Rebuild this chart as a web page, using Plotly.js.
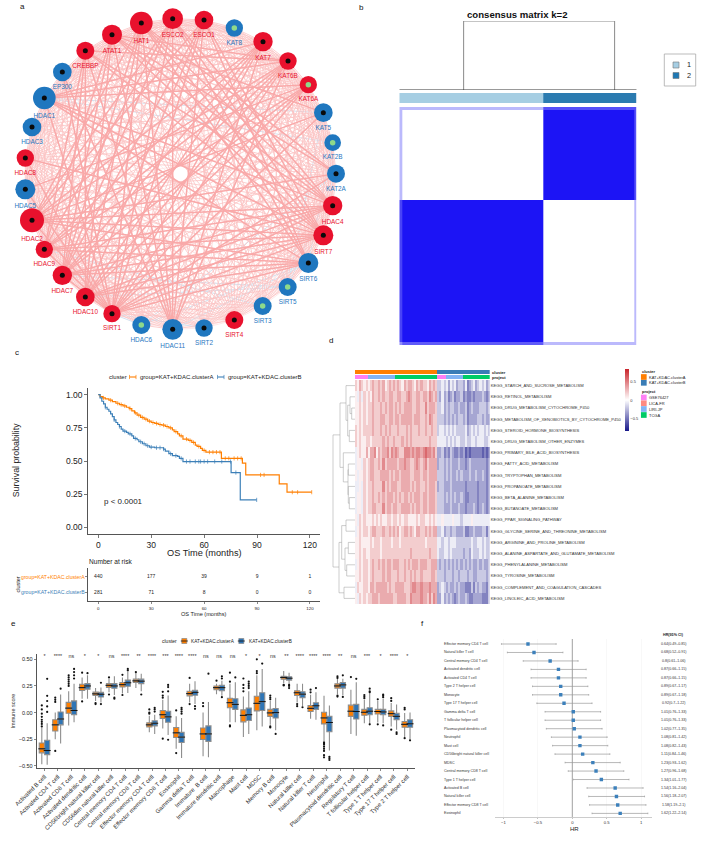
<!DOCTYPE html>
<html><head><meta charset="utf-8">
<script src="https://cdn.plot.ly/plotly-3.0.1.min.js"></script>
<style>html,body{margin:0;padding:0;background:#fff}</style></head>
<body><div id="chart" style="width:709px;height:841px"></div>
<script>
const W=709,H=841;
/* ---------- panel a : network ---------- */
const nodeNames=['HAT1','ESCO2','ESCO1','KAT8','KAT7','KAT6B','KAT6A','KAT5','KAT2B','KAT2A','HDAC4','SIRT7','SIRT6','SIRT5','SIRT3','SIRT4','SIRT2','HDAC11','HDAC6','SIRT1','HDAC10','HDAC7','HDAC9','HDAC2','HDAC5','HDAC8','HDAC3','HDAC1','EP300','CREBBP','ATAT1'];
const nodeX=[424,518,612,703,789,864,925,970,998,1008,998,970,925,863,788,703,612,518,424,336,256,187,133,96,76,76,96,133,187,256,336];
const nodeY=[69,56,60,84,125,183,254,338,428,521,617,706,789,861,918,960,984,988,975,941,891,826,748,661,568,474,381,294,216,152,104];
const nodeSize=[68,62,56,52,58,52,52,56,50,54,58,60,60,54,54,54,52,62,54,52,56,58,52,72,60,52,56,68,56,54,60];
const nodeGroup=[1,1,1,2,1,1,1,2,2,2,1,1,2,2,2,1,2,2,2,1,1,1,1,1,2,1,2,2,2,1,1];
const nodeCore=[0,0,0,1,0,0,1,0,1,0,0,0,0,1,1,0,0,0,1,0,0,0,0,0,0,0,0,0,0,0,0];
const strongEdges=[[19,27],[19,28],[19,0],[19,1],[19,2],[19,4],[19,5],[19,6],[19,7],[19,9],[19,10],[19,11],[19,12],[19,23],[19,22],[19,21],[19,24],[19,25],[23,12],[23,11],[23,10],[23,9],[23,7],[23,5],[23,4],[23,2],[23,1],[23,0],[27,10],[27,11],[27,5],[27,4],[27,6],[27,12],[0,10],[0,11],[0,12],[0,9],[0,17],[0,20],[0,21],[1,17],[1,12],[1,11],[1,10],[1,21],[1,22],[2,12],[2,11],[2,17],[2,21],[2,20],[4,17],[4,20],[4,21],[4,22],[5,20],[5,21],[5,22],[5,17],[6,20],[6,21],[6,22],[6,24],[11,20],[11,21],[11,22],[11,25],[11,29],[11,30],[10,29],[10,30],[10,20],[10,21],[10,22],[12,20],[12,21],[12,22],[17,29],[17,30],[17,28],[20,29],[20,30],[21,29],[21,30],[22,29],[22,30],[29,5],[30,5],[30,7],[30,9]];
const paleEdges=[[13,14],[14,15],[15,16],[16,17],[13,16],[14,16],[14,17],[13,17],[13,18],[14,18],[15,18],[16,18],[3,13],[3,14],[3,16],[3,18],[8,13],[8,14],[8,16],[8,18],[24,13],[24,14],[24,16],[26,13],[26,14],[26,16],[26,18],[27,13],[27,14],[27,16],[28,13],[28,14],[28,16],[3,26],[3,24],[8,24],[8,26]];
const blueEdges=[[27,8],[20,12],[20,13],[19,18],[19,16],[21,13],[22,14],[17,12],[18,12],[8,12],[7,13],[9,13],[9,18],[27,7]];
/* ---------- panel b : consensus ---------- */
const consensusXEdges=[0,.012,.608,.988,1];
const consensusYEdges=[0,.012,.392,.988,1];
const consensusZ=[[.3,.3,.75,.75],[.3,0,1,.75],[.8,1,0,.3],[.5,.7,.3,.3]];
const memberEdges=[0,.608,1];
const memberZ=[[1,2]];
const treeBX=[.271,.271,.907,.907];
const treeBY=[0,1,1,0];
/* ---------- panel c : survival ---------- */
const timeA=[0,1,2.5,4,6,8,10,12,14,16,17.5,19,20.5,22,24,26,28,30,32,34,36,38,40,42,43,45,46,48,51,53,55,56,58,59,61,69.8,81.7,83.6,102.6,107,121];
const survA=[1,.985,.975,.968,.958,.948,.935,.925,.915,.905,.895,.878,.863,.845,.828,.815,.80,.79,.783,.775,.77,.76,.75,.735,.722,.705,.69,.665,.655,.64,.62,.61,.595,.58,.567,.52,.484,.395,.327,.265,.265];
const timeB=[0,1,2,3,4,5,6,7,8,9,10,11,12,13,14,16,17,19,20,22,23,25,27,29,32,37,38,40,42,45,46,48,75.3,80.5,89.8];
const survB=[1,.975,.95,.93,.905,.89,.875,.855,.835,.81,.79,.775,.76,.74,.725,.715,.705,.69,.67,.66,.645,.63,.615,.605,.6,.59,.575,.555,.54,.535,.52,.496,.413,.207,.207];
const censorA=[3,7,11,13,15,18,21,23,25,27,29,31,33,35,37,39,41,44,47,50,52,54,57,60,63,65,67,69,72,74,77,79,81,92,94,110,113,121];
const censorB=[4,9,12,15,18,21,24,26,28,30,33,35,37,41,44,47,50,52,55,57,58,60,62,66,70,75,78,89.8];
const riskTimes=[0,30,60,90,120];
const riskA=[440,177,39,9,1];
const riskB=[281,71,8,0,0];
/* ---------- panel d : KEGG heatmap ---------- */
const keggRows=['KEGG_STARCH_AND_SUCROSE_METABOLISM','KEGG_RETINOL_METABOLISM','KEGG_DRUG_METABOLISM_CYTOCHROME_P450','KEGG_METABOLISM_OF_XENOBIOTICS_BY_CYTOCHROME_P450','KEGG_STEROID_HORMONE_BIOSYNTHESIS','KEGG_DRUG_METABOLISM_OTHER_ENZYMES','KEGG_PRIMARY_BILE_ACID_BIOSYNTHESIS','KEGG_FATTY_ACID_METABOLISM','KEGG_TRYPTOPHAN_METABOLISM','KEGG_PROPANOATE_METABOLISM','KEGG_BETA_ALANINE_METABOLISM','KEGG_BUTANOATE_METABOLISM','KEGG_PPAR_SIGNALING_PATHWAY','KEGG_GLYCINE_SERINE_AND_THREONINE_METABOLISM','KEGG_ARGININE_AND_PROLINE_METABOLISM','KEGG_ALANINE_ASPARTATE_AND_GLUTAMATE_METABOLISM','KEGG_PHENYLALANINE_METABOLISM','KEGG_TYROSINE_METABOLISM','KEGG_COMPLEMENT_AND_COAGULATION_CASCADES','KEGG_LINOLEIC_ACID_METABOLISM'];
const keggLevels=[
"6576565676 6767567676 7657677657 6766576763 3434243423 3241234234 3423",
"5464656576 6767667766 7766787667 7677687673 2423123122 3121121222 3212",
"5565656676 6676767767 6767777667 7668677763 3423233223 2231232223 3323",
"5565656676 6677667767 7677777677 7667687663 3323232323 3231222233 2322",
"6565666676 6676767666 7666767666 7667667663 4434343433 3342343434 4343",
"6565566566 6667676676 6676767666 6666676664 4443434344 3343344344 4334",
"4565575778 5767786878 7668887878 8789887862 2312132112 1201011111 0101",
"4554656776 6768677777 6778776678 7678677772 3323232223 2212322222 2212",
"5455656776 6677776767 7677776677 7677677773 3323232232 3222322322 3212",
"4454656676 6668676777 6677776767 7667677762 3322232222 2212222212 2212",
"4554656676 6767677767 6767767677 7677677763 3323232322 3211222212 2212",
"4554656677 6668677677 6677776767 7677677763 3322232223 2212223212 3212",
"5465655565 6565566566 5656655556 5665565654 4544445444 3444454444 4444",
"4565665677 6667667676 7567767657 7667676773 3423323322 2311223222 3313",
"5565555656 6656666566 6566666666 6665666664 4344344433 3333343344 3433",
"5565655666 6656666666 6666667666 6666676664 3344343333 3233243334 3433",
"4565665676 6767677677 7667676777 6777667773 2323232323 2323232232 3223",
"5565665676 6667677666 7667667676 6766667763 3323332332 3332332233 3323",
"4655665776 7777767667 7776667887 7877787772 3432322323 2211131323 2213",
"5465656677 7677777766 7777668777 7877686872 2423232123 2232112222 1113"];
const clusterRuns=[39,25];
const projectRuns=[[1,6],[3,13],[4,20],[1,4],[3,8],[4,13]];
const treeLow=[2,1,4,1.75,0,10,9,7,7.5,6,1.55,12,14,16,14.5,12.5,18,14,4.4];
const treeHigh=[3,2.5,5,4.5,3.1,11,10.5,8,9.75,8.6,7.3,13,15,17,16.5,15.5,19,18.5,16.2];
const treeDepth=[3.3,5,5.7,7.3,9,5.7,6.7,6.7,7,11.7,15,9,6.7,8.3,10,13.3,11,16,22];
const treeLowChild=[0,0,0,5,0,0,0,0,6.7,0,9,0,0,0,6.7,9,0,13.3,15];
const treeHighChild=[0,3.3,0,5.7,7.3,0,5.7,0,6.7,7,11.7,0,0,0,8.3,10,0,11,16];
/* ---------- panel e : immune boxes ---------- */
const immuneCells=['Activated B cell','Activated CD4 T cell','Activated CD8 T cell','Activated dendritic cell','CD56bright natural killer cell','CD56dim natural killer cell','Central memory CD4 T cell','Central memory CD8 T cell','Effector memory CD4 T cell','Effector memory CD8 T cell','Eosinophil','Gamma delta T cell','Immature  B cell','Immature dendritic cell','Macrophage','Mast cell','MDSC','Memory B cell','Monocyte','Natural killer cell','Natural killer T cell','Neutrophil','Plasmacytoid dendritic cell','Regulatory T cell','T follicular helper cell','Type 1 T helper cell','Type 17 T helper cell','Type 2 T helper cell'];
const signif=['*','****','ns','*','*','ns','****','**','****','***','****','****','ns','ns','ns','*','*','ns','**','****','****','****','**','ns','***','*','****','*'];
const lowA=[-.484,-.25,-.12,.13,.11,.19,.18,.23,-.185,-.15,-.34,.095,-.41,.173,-.09,-.23,-.165,-.115,.275,.095,-.058,-.266,.173,-.2,-.1,-.093,-.13,-.23];
const q1A=[-.378,-.173,-.006,.208,.16,.237,.24,.282,-.135,-.055,-.234,.157,-.253,.215,.045,-.087,.016,-.035,.314,.16,.01,-.106,.23,-.035,-.025,-.013,-.035,-.138];
const medA=[-.34,-.115,.042,.234,.176,.256,.262,.298,-.115,-.02,-.19,.178,-.2,.234,.093,-.026,.087,-.003,.33,.186,.04,-.05,.25,.013,.003,.01,-.01,-.11];
const q3A=[-.285,-.067,.096,.266,.192,.272,.282,.314,-.096,.02,-.14,.2,-.144,.25,.135,.026,.154,.03,.34,.205,.067,.003,.27,.07,.03,.03,.016,-.083];
const highA=[-.14,0,.2,.33,.23,.315,.33,.38,-.03,.12,-.035,.27,0,.27,.27,.15,.35,.11,.39,.27,.167,.157,.317,.215,.12,.11,.09,-.003];
const lowB=[-.49,-.29,-.09,.13,.095,.165,.185,.2,-.2,-.21,-.425,.08,-.42,.157,-.09,-.2,-.13,-.165,.265,.06,-.067,-.355,.163,-.218,-.11,-.1,-.16,-.25];
const q1B=[-.394,-.115,-.02,.22,.147,.228,.247,.272,-.125,-.09,-.28,.163,-.27,.205,.03,-.074,.02,-.05,.305,.14,.03,-.18,.23,-.06,-.02,-.02,-.067,-.138];
const medB=[-.356,-.06,.02,.25,.172,.25,.28,.295,-.1,-.04,-.23,.19,-.2,.234,.077,-.02,.103,0,.323,.173,.064,-.093,.26,.01,.013,.006,-.035,-.105];
const q3B=[-.26,.006,.11,.272,.19,.272,.305,.314,-.077,.013,-.186,.21,-.125,.256,.13,.042,.186,.038,.337,.196,.093,-.035,.282,.077,.045,.03,-.006,-.067];
const highB=[-.1,.17,.27,.35,.235,.34,.38,.365,-.02,.16,-.05,.295,.1,.3,.285,.2,.41,.14,.375,.27,.19,.067,.317,.285,.18,.13,.077,0];
const outA=[[.067,.03,-.01,-.04,-.067,-.087,-.106,-.13],[.14,.12,.1,-.36],[.35,.33,.31,.29,.27,.25],[.375,.105],[.09,.08],[.33,.17],[.355,.165],[.38],[.03,0,-.01],[.195,.16,.14,-.245],[.02,-.38],[.325,.08],[.09,.06],[.3],[.375,.29,-.12,-.13],[.32,.26,.23,.2],[.5,.39,.37],[.16,.14,.125,-.13,-.14],[.26,.255],[.08,.06],[.215,.19],[-.28,-.29,-.3,-.32,-.34,-.36,-.4,-.42],[.34,.325,.16,.15],[.333],[.165,.15,.135],[.125,-.11],[.135,.11,-.16],[.045,.03,-.24]];
const outB=[[.317,.157,.109,.058,.006],[.225],[.41,.38,.35,.32],[.37],[.28,.08],[.14,.13],[.41,.395],[.17],[.045,.03,.01],[.26,.24,.2,-.255],[.045,.03,.01,-.01],[.06,.035],[.365],[.34,.32,.145],[.33],[.29,.27,.25,.23],[.46],[-.2],[.26,.25,.23],[.05],[.23],[-.415,-.43,-.445],[.35,.147],[.317],[.225,.2,.19,-.11],[.17,.16,.145,-.12],[-.185,-.2],[-.26]];
/* ---------- panel f : forest ---------- */
const forestCells=['Effector memory CD4 T cell','Natural killer T cell','Central memory CD4 T cell','Activated dendritic cell','Activated CD4 T cell','Type 2 T helper cell','Monocyte','Type 17 T helper cell','Gamma delta T cell','T follicular helper cell','Plasmacytoid dendritic cell','Neutrophil','Mast cell','CD56bright natural killer cell','MDSC','Central memory CD8 T cell','Type 1 T helper cell','Activated B cell','Natural killer cell','Effector memory CD8 T cell','Eosinophil'];
const forestHR=[.64,.68,.8,.87,.87,.89,.89,.92,1.01,1.01,1.02,1.08,1.08,1.11,1.23,1.27,1.34,1.54,1.56,1.58,1.62];
const forestLow=[.49,.52,.61,.66,.66,.67,.67,.7,.76,.76,.77,.81,.82,.84,.93,.96,1.01,1.16,1.18,1.19,1.22];
const forestHigh=[.85,.91,1.06,1.15,1.15,1.17,1.18,1.22,1.33,1.33,1.35,1.42,1.43,1.46,1.62,1.68,1.77,2.04,2.07,2.1,2.14];

const FONT='"Liberation Sans", Arial, sans-serif';
const RED='#e8112d',BLUE='#1f77bf',ORANGE='#ff7f00',KMBLUE='#3d80b8',BOXBLUE='#2e75b6';
const traces=[],annotations=[];
const layout={width:W,height:H,margin:{l:0,r:0,t:0,b:0,pad:0},paper_bgcolor:'#fff',plot_bgcolor:'rgba(0,0,0,0)',showlegend:false,font:{family:FONT,color:'#222',size:6},boxmode:'overlay',hovermode:false,annotations};
function axes(n,x0,x1,y0,y1,xo,yo){
  layout['xaxis'+n]=Object.assign({domain:[x0/W,x1/W],anchor:'y'+n,showgrid:false,zeroline:false,showline:false,showticklabels:false,ticks:'',automargin:false},xo);
  layout['yaxis'+n]=Object.assign({domain:[1-y1/H,1-y0/H],anchor:'x'+n,showgrid:false,zeroline:false,showline:false,showticklabels:false,ticks:'',automargin:false},yo);
}
function extraY(n,y0,y1,anchor,range){
  layout['yaxis'+n]={domain:[1-y1/H,1-y0/H],anchor,range:range||[0,1],showgrid:false,zeroline:false,showticklabels:false,showline:false,ticks:''};
}
function note(x,y,text,size,o){
  annotations.push(Object.assign({xref:'paper',yref:'paper',x:x/W,y:1-y/H,text,showarrow:false,xanchor:'left',yanchor:'middle',font:{size,color:'#222'},borderpad:0},o||{}));
}
function strip(z,colors,xa,ya,x,y){
  const n=colors.length;const cs=[];colors.forEach((c,i)=>{cs.push([i/n,c],[(i+1)/n,c]);});
  traces.push({type:'heatmap',z,x,y,xaxis:xa,yaxis:ya,colorscale:cs,zmin:.5,zmax:n+.5,showscale:false,hoverinfo:'skip',xgap:0,ygap:0});
}
/* letters */
[['a',22,7],['b',361,8],['c',17,353],['d',331,340],['e',13,623],['f',422,623]].forEach(l=>note(l[1],l[2],l[0],8,{xanchor:'center',font:{size:8,color:'#111'}}));

/* panel a : uses the first axis pair */
layout.xaxis={domain:[0,350/W],anchor:'y',range:[0,1050],showgrid:false,zeroline:false,showticklabels:false,ticks:''};
layout.yaxis={domain:[1-350/H,1],anchor:'x',range:[1050,0],showgrid:false,zeroline:false,showticklabels:false,ticks:''};
function segs(pairs){const x=[],y=[];pairs.forEach(p=>{x.push(nodeX[p[0]],nodeX[p[1]],null);y.push(nodeY[p[0]],nodeY[p[1]],null);});return {x,y};}
const keyOf=(a,b)=>a<b?a+'-'+b:b+'-'+a;
const taken=new Set([...strongEdges,...paleEdges,...blueEdges].map(p=>keyOf(p[0],p[1])));
const baseEdges=[];
nodeNames.forEach((_,i)=>nodeNames.forEach((__,j)=>{if(i<j&&!taken.has(keyOf(i,j)))baseEdges.push([i,j]);}));
function edgeTrace(pairs,color,width){const s=segs(pairs);traces.push({type:'scatter',mode:'lines',x:s.x,y:s.y,xaxis:'x',yaxis:'y',line:{color,width},hoverinfo:'skip'});}
edgeTrace(paleEdges,'#fde0df',.7);
edgeTrace(blueEdges,'#d4e1ef',1);
edgeTrace(baseEdges,'#fbc3c3',.8);
edgeTrace(strongEdges,'#f9a9a9',1.5);
const nodeColor=nodeGroup.map(g=>g===1?RED:BLUE);
traces.push({type:'scatter',mode:'markers+text',x:nodeX,y:nodeY,text:nodeNames,textposition:'bottom center',textfont:{size:6.4,color:nodeColor},xaxis:'x',yaxis:'y',cliponaxis:false,marker:{size:nodeSize.map(s=>s/3),color:nodeColor,opacity:1,line:{width:0}},hoverinfo:'skip'});
traces.push({type:'scatter',mode:'markers',x:nodeX,y:nodeY,xaxis:'x',yaxis:'y',cliponaxis:false,marker:{size:nodeCore.map(c=>c?5.5:5),color:nodeCore.map(c=>c?'#8ed98a':'#0a0a0a'),opacity:1,line:{width:0}},hoverinfo:'skip'});

/* panel b */
axes(2,399.3,636.7,107,345,{range:[0,1]},{range:[1,0]});
traces.push({type:'heatmap',x:consensusXEdges,y:consensusYEdges,z:consensusZ,xaxis:'x2',yaxis:'y2',zmin:0,zmax:1,colorscale:[[0,'#ffffff'],[1,'#1c14f5']],showscale:false,hoverinfo:'skip'});
extraY(20,21,90,'x2');
extraY(21,93,103,'x2');
traces.push({type:'scatter',mode:'lines',x:treeBX,y:treeBY,xaxis:'x2',yaxis:'y20',line:{color:'#8a8a8a',width:1},cliponaxis:false,hoverinfo:'skip'});
traces.push({type:'scatter',mode:'lines',x:[0,1],y:[0,0],xaxis:'x2',yaxis:'y20',line:{color:'#333',width:1},cliponaxis:false,hoverinfo:'skip'});
strip(memberZ,['#a6cee3','#2b7bb0'],'x2','y21',memberEdges,[0,1]);
note(517.7,15,'<b>consensus matrix k=2</b>',9.6,{xanchor:'center',font:{size:9.6,color:'#111'}});
note(689,65,'1',7.3,{xanchor:'center'});note(689,75.5,'2',7.3,{xanchor:'center'});

/* panel c */
const kmFont={size:8.5,color:'#222'};
axes(3,87.7,320,388,534,{range:[-6,125.7],showline:true,linecolor:'#555',linewidth:1,ticks:'outside',ticklen:2.5,tickcolor:'#555',tickwidth:.8,showticklabels:true,tickvals:riskTimes,tickfont:kmFont},
 {range:[-.05,1.05],showline:true,linecolor:'#555',linewidth:1,ticks:'outside',ticklen:2.5,tickcolor:'#555',tickwidth:.8,showticklabels:true,tickvals:[0,.25,.5,.75,1],ticktext:['0.00','0.25','0.50','0.75','1.00'],tickfont:kmFont});
const stepAt=(ts,ss,t)=>{let v=ss[0];ts.forEach((u,i)=>{if(u<=t)v=ss[i];});return v;};
[[timeA,survA,censorA,ORANGE],[timeB,survB,censorB,KMBLUE]].forEach(r=>{
  traces.push({type:'scatter',mode:'lines',x:r[0],y:r[1],xaxis:'x3',yaxis:'y3',line:{color:r[3],width:1.2,shape:'hv'},hoverinfo:'skip'});
  traces.push({type:'scatter',mode:'markers',x:r[2],y:r[2].map(t=>stepAt(r[0],r[1],t)),xaxis:'x3',yaxis:'y3',marker:{symbol:'line-ns-open',size:3,color:r[3],line:{color:r[3],width:.7}},hoverinfo:'skip'});
});
note(204,553,'OS Time (months)',9.2,{xanchor:'center'});
note(15.7,460.6,'Survival probability',8.8,{xanchor:'center',textangle:-90});
note(102.5,501.3,'p < 0.0001',8,{});
/* KM legend */
note(107.7,377,'cluster',6,{});
note(139,377,'group=KAT+KDAC.clusterA',6,{});
note(226.7,377,'group=KAT+KDAC.clusterB',6,{});
/* risk table */
axes(4,87.7,320,567.7,601.3,{range:[-6,125.7],showline:true,linecolor:'#555',linewidth:1,ticks:'outside',ticklen:2,tickcolor:'#555',tickwidth:.7,showticklabels:true,tickvals:riskTimes,tickfont:{size:4.4,color:'#222'}},
 {range:[1.58,-.58],showline:true,linecolor:'#555',linewidth:1,ticks:'outside',ticklen:1.5,tickcolor:'#555',tickwidth:.7,tickvals:[0,1]});
[riskA,riskB].forEach((r,k)=>traces.push({type:'scatter',mode:'text',x:riskTimes,y:riskTimes.map(()=>k),text:r.map(String),textfont:{size:5,color:'#222'},xaxis:'x4',yaxis:'y4',hoverinfo:'skip'}));
note(87.7,561,'Number at risk',6.6,{});
note(86,576.7,'group=KAT+KDAC.clusterA',5.2,{xanchor:'right',font:{size:5.2,color:ORANGE}});
note(86,592.3,'group=KAT+KDAC.clusterB',5.2,{xanchor:'right',font:{size:5.2,color:KMBLUE}});
note(17,584.5,'cluster',5.5,{xanchor:'center',textangle:-90});
note(204,613.5,'OS Time (months)',5.6,{xanchor:'center'});

/* panel d */
const colIdx=Array.from(keggLevels[0].replace(/ /g,''),(_,i)=>i);
const keggZ=keggLevels.map(s=>Array.from(s.replace(/ /g,''),d=>(+d-4.5)*.13));
const tickRows=keggRows.map((_,i)=>i);
axes(5,355,489.7,380,604,{range:[-.5,colIdx.length-.5]},{range:[19.5,-.5],side:'right',showticklabels:true,tickvals:tickRows,ticktext:keggRows,tickfont:{size:4.1,color:'#333'},ticklen:0});
traces.push({type:'heatmap',z:keggZ,x:colIdx,y:tickRows,xaxis:'x5',yaxis:'y5',zmin:-.85,zmax:.85,hoverinfo:'skip',
 colorscale:[[0,'#17178a'],[.5,'#ffffff'],[1,'#c9242b']],
 colorbar:{x:625.3/W,xanchor:'left',y:1-369.3/H,yanchor:'top',lenmode:'pixels',len:62.4,thicknessmode:'pixels',thickness:4,xpad:0,ypad:0,outlinewidth:0,ticks:'',tickvals:[-.5,0,.5],ticktext:['\u22120.5','0','0.5'],tickfont:{size:4,color:'#333'}}});
extraY(6,370,374,'x5');
extraY(7,375,379,'x5');
const clusterCols=[];clusterRuns.forEach((n,i)=>{for(let k=0;k<n;k++)clusterCols.push(i+1);});
const projectCols=[];projectRuns.forEach(r=>{for(let k=0;k<r[1];k++)projectCols.push(r[0]);});
strip([clusterCols],[ORANGE,'#3a7db6'],'x5','y6',colIdx,[.5]);
strip([projectCols],['#ff80f4','#ff8a80','#82b4f4','#00cc66'],'x5','y7',colIdx,[.5]);
note(491,372,'<b>cluster</b>',4.1,{});note(491,377,'<b>project</b>',4.1,{});
/* left tree */
const tx=[],ty=[];
treeLow.forEach((l,i)=>{tx.push(treeLowChild[i],treeDepth[i],treeDepth[i],treeHighChild[i],null);ty.push(l,l,treeHigh[i],treeHigh[i],null);});
layout.xaxis8={domain:[332/W,355/W],anchor:'y5',range:[23,0],showgrid:false,zeroline:false,showticklabels:false,showline:false,ticks:''};
traces.push({type:'scatter',mode:'lines',x:tx,y:ty,xaxis:'x8',yaxis:'y5',line:{color:'#9a9a9a',width:.5},hoverinfo:'skip',cliponaxis:false});
/* d legends */
note(641,371,'<b>cluster</b>',4,{});
note(648,377,'KAT+KDAC.clusterA',4,{});note(648,382.7,'KAT+KDAC.clusterB',4,{});
note(641,392,'<b>project</b>',4,{});
['GSE76427','LICA-FR','LIRI-JP','TCGA'].forEach((t,i)=>note(648,[397.5,403.3,409,415][i],t,4,{}));

/* panel e */
axes(9,36.7,415,654,768,{range:[-.58,27.57],showline:true,linecolor:'#555',linewidth:1,ticks:'outside',ticklen:2,tickcolor:'#555',tickwidth:.7,showticklabels:true,tickvals:immuneCells.map((_,i)=>i),ticktext:immuneCells,tickangle:-45,tickfont:{size:6,color:'#333'}},
 {range:[-.52,.55],showline:true,linecolor:'#555',linewidth:1,ticks:'outside',ticklen:2,tickcolor:'#555',tickwidth:.7,showticklabels:true,tickvals:[-.5,-.25,0,.25,.5],ticktext:['\u22120.50','\u22120.25','0.00','0.25','0.50'],tickfont:{size:5.5,color:'#222'},title:{text:'Immune score',font:{size:5.5,color:'#333'},standoff:2}});
[[lowA,q1A,medA,q3A,highA,outA,ORANGE,-.2],[lowB,q1B,medB,q3B,highB,outB,BOXBLUE,.2]].forEach(r=>{
  const xs=immuneCells.map((_,i)=>i+r[7]);
  traces.push({type:'box',x:xs,lowerfence:r[0],q1:r[1],median:r[2],q3:r[3],upperfence:r[4],width:.38,whiskerwidth:0,boxpoints:false,fillcolor:r[6],line:{color:'#8e8e8e',width:1.1},xaxis:'x9',yaxis:'y9',hoverinfo:'skip'});
  traces.push({type:'scatter',mode:'markers',x:xs,y:r[2],xaxis:'x9',yaxis:'y9',marker:{symbol:'line-ew-open',size:5,color:'#111',line:{color:'#111',width:1}},hoverinfo:'skip'});
  const ox=[],oy=[];r[5].forEach((a,i)=>a.forEach(v=>{ox.push(i+r[7]);oy.push(v);}));
  traces.push({type:'scatter',mode:'markers',x:ox,y:oy,xaxis:'x9',yaxis:'y9',marker:{size:2.2,color:'#111'},hoverinfo:'skip',cliponaxis:false});
});
traces.push({type:'scatter',mode:'text',x:immuneCells.map((_,i)=>i),y:immuneCells.map(()=>.525),text:signif,textfont:{size:5.4,color:'#333'},xaxis:'x9',yaxis:'y9',cliponaxis:false,hoverinfo:'skip'});
note(161,641,'cluster',5,{});
note(190,641,'KAT+KDAC.clusterA',4.7,{});note(247.7,641,'KAT+KDAC.clusterB',4.7,{});

/* panel f */
const log2=v=>Math.log(v)/Math.LN2;
axes(10,495,652,639,817.3,{range:[-1.123,1.158],showline:true,linecolor:'#aaa',linewidth:.6,ticks:'outside',ticklen:1.5,tickcolor:'#888',tickwidth:.5,showticklabels:true,tickvals:[-1,-.5,0,.5,1],ticktext:['\u22121','\u22120.5','0','0.5','1'],tickfont:{size:4.2,color:'#333'},showgrid:true,gridcolor:'#f1f1f1',gridwidth:.5},
 {range:[20.46,-.59]});
const rows=forestCells.map((_,i)=>i);
traces.push({type:'scatter',mode:'lines',x:[0,0],y:[-.59,20.46],xaxis:'x10',yaxis:'y10',line:{color:'#8a8a8a',width:.8},hoverinfo:'skip'});
traces.push({type:'scatter',mode:'markers',x:forestHR.map(log2),y:rows,xaxis:'x10',yaxis:'y10',marker:{symbol:'square',size:3.4,color:'#3c80bb'},
 error_x:{type:'data',symmetric:false,array:forestHigh.map((v,i)=>log2(v)-log2(forestHR[i])),arrayminus:forestLow.map((v,i)=>log2(forestHR[i])-log2(v)),color:'#9a9a9a',thickness:.7,width:.8},hoverinfo:'skip'});
note(574,828.7,'HR',6,{xanchor:'center'});
note(673,635,'<b>HR(95% CI)</b>',3.7,{xanchor:'center'});
forestCells.forEach((c,i)=>{
  annotations.push({xref:'paper',yref:'y10',x:443/W,y:i,text:c,showarrow:false,xanchor:'left',yanchor:'middle',font:{size:3.6,color:'#333'},borderpad:0});
  annotations.push({xref:'paper',yref:'y10',x:673/W,y:i,text:forestHR[i]+'('+forestLow[i]+'\u2013'+forestHigh[i]+')',showarrow:false,xanchor:'center',yanchor:'middle',font:{size:3.6,color:'#333'},borderpad:0});
});

/* legend keys on a full-page helper scale */
axes(11,0,W,0,H,{range:[0,W]},{range:[H,0]});
const keyX=[676,676,643.8,643.8,643.8,643.8,643.8,643.8];
const keyY=[65,75.5,377,382.8,397.5,403.3,409,415];
const keyCol=['#a6cee3','#1f78b4',ORANGE,'#3a7db6','#ff80f4','#ff8a80','#82b4f4','#00cc66'];
const keySize=[6,6,5.7,5.7,5.7,5.7,5.7,5.7];
traces.push({type:'scatter',mode:'markers',x:keyX,y:keyY,xaxis:'x11',yaxis:'y11',marker:{symbol:'square',size:keySize,opacity:1,color:keyCol,line:{width:keyX.map((_,i)=>i<2?.6:0),color:'#777'}},hoverinfo:'skip'});
traces.push({type:'scatter',mode:'markers',x:[184.3,241.3],y:[641,641],xaxis:'x11',yaxis:'y11',marker:{symbol:'square',size:5,opacity:1,color:[ORANGE,BOXBLUE],line:{width:.7,color:'#888'}},hoverinfo:'skip'});
traces.push({type:'scatter',mode:'markers',x:[184.3,241.3],y:[641,641],xaxis:'x11',yaxis:'y11',marker:{symbol:'line-ew-open',size:5,color:'#111',line:{width:.8,color:'#111'}},hoverinfo:'skip'});
traces.push({type:'scatter',mode:'lines',x:[664.3,695.7,695.7,664.3,664.3],y:[54,54,86,86,54],xaxis:'x11',yaxis:'y11',line:{color:'#aaa',width:.8},hoverinfo:'skip'});
traces.push({type:'scatter',mode:'lines+markers',x:[129.5,136],y:[377,377],xaxis:'x11',yaxis:'y11',line:{color:ORANGE,width:1.1},marker:{symbol:'line-ns-open',size:3,color:ORANGE,line:{color:ORANGE,width:.7}},hoverinfo:'skip'});
traces.push({type:'scatter',mode:'lines+markers',x:[217.5,224],y:[377,377],xaxis:'x11',yaxis:'y11',line:{color:KMBLUE,width:1.1},marker:{symbol:'line-ns-open',size:3,color:KMBLUE,line:{color:KMBLUE,width:.7}},hoverinfo:'skip'});

Plotly.newPlot('chart',traces,layout,{displayModeBar:false,staticPlot:true});
</script></body></html>
